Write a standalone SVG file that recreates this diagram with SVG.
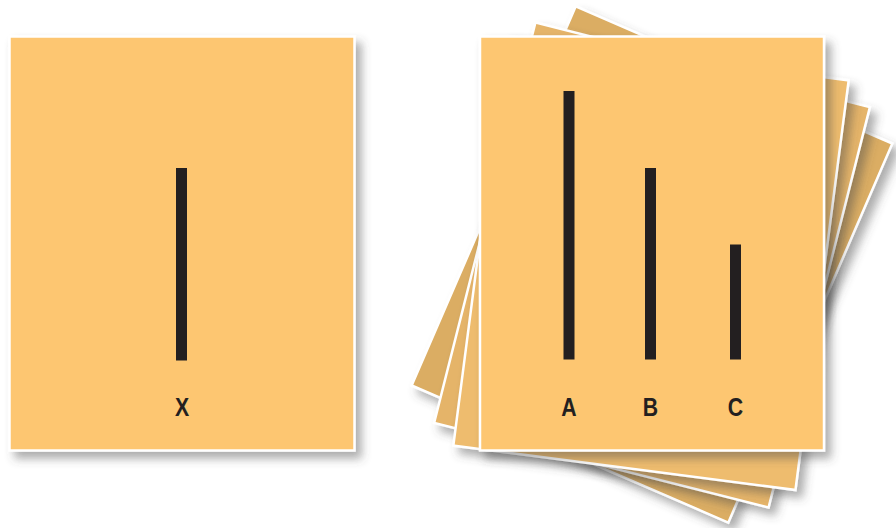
<svg xmlns="http://www.w3.org/2000/svg" width="896" height="528" viewBox="0 0 896 528">
  <defs>
    <filter id="sh" x="-20%" y="-20%" width="140%" height="140%">
      <feDropShadow dx="6" dy="7" stdDeviation="5" flood-color="#4a4a4a" flood-opacity="0.45"/>
    </filter>
  </defs>
  <style>
    .card { stroke: #ffffff; stroke-width: 2.5; }
    .front { fill: #fdc671; }
    .b1 { fill: #dbad63; }
    .b2 { fill: #e5b469; }
    .b3 { fill: #eebc6e; }
    .bar { fill: #231f20; }
    .lbl { font-family: "Liberation Sans", Arial, sans-serif; font-weight: bold; font-size: 25px; fill: #231f20; text-anchor: middle; }
  </style>

  <!-- Left standard card -->
  <g id="card-x">
    <g filter="url(#sh)">
      <rect class="card front" x="9.5" y="36.5" width="345" height="414"/>
    </g>
    <rect class="bar" x="176" y="168" width="11" height="192.5"/>
    <text class="lbl" transform="translate(182,416) scale(0.85,1)">X</text>
  </g>

  <!-- Stack of comparison cards -->
  <g id="card-back-1" filter="url(#sh)">
    <g transform="translate(652,264.5) rotate(23.4)">
      <rect class="card b1" x="-172.5" y="-206.5" width="345" height="413"/>
    </g>
  </g>
  <g id="card-back-2" filter="url(#sh)">
    <g transform="translate(652,265) rotate(14.2)">
      <rect class="card b2" x="-172.5" y="-206.5" width="345" height="413"/>
    </g>
  </g>
  <g id="card-back-3" filter="url(#sh)">
    <g transform="translate(651,263) rotate(7.4)">
      <rect class="card b3" x="-172.5" y="-206.5" width="345" height="413"/>
    </g>
  </g>

  <g id="card-abc">
    <g filter="url(#sh)">
      <rect class="card front" x="480" y="36.5" width="344" height="414"/>
    </g>
    <rect class="bar" x="563.5" y="91" width="11" height="268.5"/>
    <rect class="bar" x="645" y="168" width="11" height="191.5"/>
    <rect class="bar" x="730" y="244.5" width="11" height="115"/>
    <text class="lbl" transform="translate(569,416) scale(0.85,1)">A</text>
    <text class="lbl" transform="translate(650.5,416) scale(0.85,1)">B</text>
    <text class="lbl" transform="translate(735.5,416) scale(0.85,1)">C</text>
  </g>
</svg>
